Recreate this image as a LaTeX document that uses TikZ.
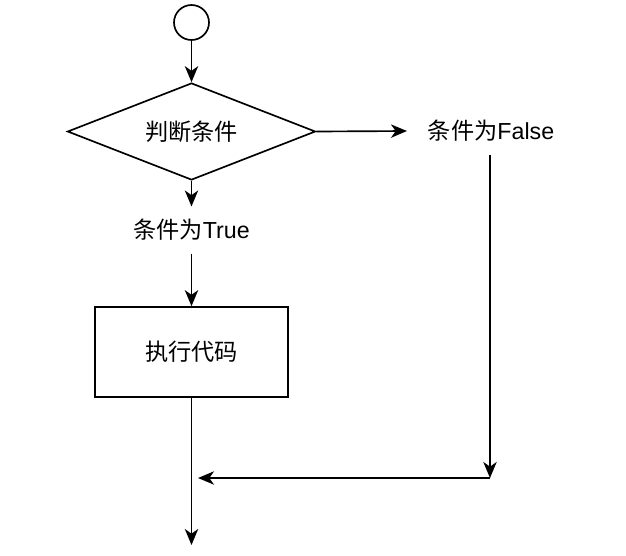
\documentclass[tikz,border=0pt]{standalone}
\usepackage{fontspec}
\setmainfont{Liberation Sans}
\newfontfamily\cjk{Noto Sans CJK SC}
\usetikzlibrary{shapes.geometric, arrows.meta}

\begin{document}
\begin{tikzpicture}[x=0.75bp, y=-0.75bp, line width=1.25bp,
  flow/.style={-{Stealth[length=12bp, width=10bp, inset=3.5bp]}},
  label/.style={inner xsep=15bp, inner ysep=9bp, font=\fontsize{17.4bp}{21bp}\selectfont},
  box/.style={draw, font=\fontsize{17.4bp}{21bp}\selectfont}]
\useasboundingbox (0,0) rectangle (626,556);
\node[draw, circle, minimum size=35*0.75bp, inner sep=0] (start) at (191.5,22.5) {};
\node[box, diamond, aspect=2.5, minimum width=248*0.75bp, minimum height=97*0.75bp, inner sep=0] (cond) at (191.5,131.5) {\cjk 判断条件};
\node[label] (no) at (491,131) {{\cjk 条件为}False};
\node[label] (yes) at (191.5,230) {{\cjk 条件为}True};
\node[box, minimum width=193*0.75bp, minimum height=90*0.75bp] (work) at (191.5,352) {\cjk 执行代码};
\coordinate (corner) at (490,478);
\coordinate (join) at (198,478);
\coordinate (out) at (191.5,545);
\draw[flow] (start) -- (cond);
\draw[flow] (cond.east) -- (no.west);
\draw[flow] (cond.south) -- (yes.north);
\draw[flow] (yes.south) -- (work.north);
\draw[flow] (no.south -| corner) -- (corner);
\draw[flow] (corner) -- (join);
\draw[flow] (work.south) -- (out);
\end{tikzpicture}
\end{document}
